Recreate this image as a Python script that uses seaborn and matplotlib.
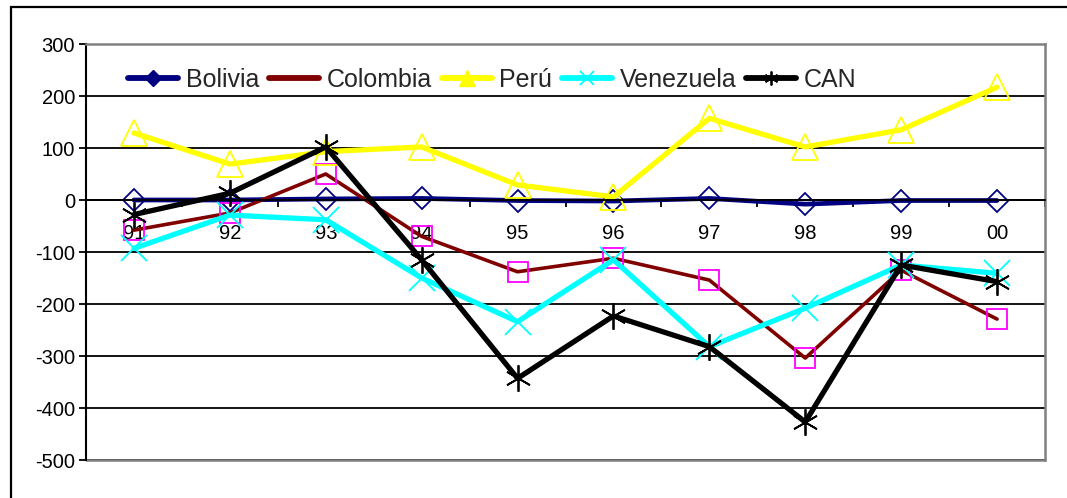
import matplotlib
matplotlib.use('Agg')
import matplotlib.pyplot as plt
import seaborn as sns
import numpy as np
import pandas as pd
from matplotlib.lines import Line2D
from matplotlib.patches import Rectangle

sns.set_theme(style='white')
plt.rcParams['font.family'] = ['Liberation Sans', 'DejaVu Sans']

# data
years = ['91', '92', '93', '94', '95', '96', '97', '98', '99', '00']
bolivia = [0, 0, 2, 3, -1, -2, 3, -8, -1, -1]
colombia = [-58, -25, 50, -70, -138, -112, -154, -304, -135, -229]
peru = [129, 69, 93, 102, 29, 6, 157, 102, 135, 217]
venezuela = [-93, -29, -38, -150, -234, -115, -282, -208, -125, -141]
can = [-28, 13, 102, -115, -343, -223, -282, -427, -125, -157]
yticks = [300, 200, 100, 0, -100, -200, -300, -400, -500]

df = pd.DataFrame({'pos': np.arange(len(years)), 'Bolivia': bolivia, 'Colombia': colombia,
                   'Perú': peru, 'Venezuela': venezuela, 'CAN': can})

asterisk = (6, 2, 0)
# name, line colour, marker, marker colour, marker size, line width
styles = [
    ('Bolivia', '#000080', 'D', '#000080', 11.5, 3.4),
    ('Colombia', '#800000', 's', '#FF00FF', 15, 2.6),
    ('Perú', '#FFFF00', '^', '#FFFF00', 19, 3.8),
    ('Venezuela', '#00FFFF', 'x', '#00FFFF', 19, 3.8),
    ('CAN', '#000000', asterisk, '#000000', 19, 3.8),
]

fig = plt.figure(figsize=(10.67, 4.98), dpi=100)
ax = fig.add_axes([86 / 1067, 1 - 460 / 498, 959 / 1067, 416 / 498])

for name, lc, mk, mc, ms, lw in styles:
    sns.lineplot(data=df, x='pos', y=name, ax=ax, color=lc, lw=lw, marker=mk,
                 mfc='none', mec=mc, ms=ms, mew=1.3, sort=False, legend=False)

ax.set_xlim(-0.5, len(years) - 0.5)
ax.set_ylim(-500, 300)
ax.set_xlabel('')
ax.set_ylabel('')

# y axis
ax.set_yticks(yticks)
ax.set_yticklabels([str(v) for v in yticks])
ax.tick_params(axis='y', which='major', left=True, length=5, width=1.3, color='black',
               pad=3, labelsize=14.5, labelcolor='black')
ax.yaxis.grid(True, color='black', lw=1.3)
ax.set_axisbelow(True)

# x axis sits on zero
ax.spines['bottom'].set_position(('data', 0))
ax.spines['bottom'].set_color('black')
ax.spines['bottom'].set_linewidth(1.3)
ax.spines['left'].set_color('black')
ax.spines['left'].set_linewidth(1.5)
for s in ['top', 'right']:
    ax.spines[s].set_color('#808080')
    ax.spines[s].set_linewidth(1.8)
ax.axhline(-500, color='#808080', lw=1.8, clip_on=False, zorder=2.5)

ax.set_xticks(np.arange(len(years)))
ax.set_xticklabels(years)
ax.set_xticks(np.arange(-0.5, len(years)), minor=True)
ax.tick_params(axis='x', which='major', length=0, pad=17, labelsize=14.5, labelcolor='black')
ax.tick_params(axis='x', which='minor', bottom=True, length=5, width=1.3, color='black',
               direction='out')

# legend
handles = [
    Line2D([], [], color='#000080', lw=4.2, marker='D', ms=8, mfc='#000080', mec='#000080'),
    Line2D([], [], color='#800000', lw=4.2),
    Line2D([], [], color='#FFFF00', lw=4.2, marker='^', ms=11, mfc='#FFFF00', mec='#FFFF00'),
    Line2D([], [], color='#00FFFF', lw=4.2, marker='x', ms=10, mec='#00FFFF', mew=1.3),
    Line2D([], [], color='#000000', lw=4.2, marker=asterisk, ms=10, mec='#000000', mew=1.3),
]
ax.legend(handles, [s[0] for s in styles], loc='center left',
          bbox_to_anchor=((128 - 86) / 959, (460 - 80) / 416), ncol=5, frameon=False,
          fontsize=18, handlelength=2.0, handletextpad=0.3, columnspacing=0.4,
          borderpad=0, borderaxespad=0)

# outer chart frame
fig.patches.append(Rectangle((11 / 1067, -0.1), 1.2, 1.1 - 7 / 498, transform=fig.transFigure,
                             fill=False, ec='black', lw=1.6))

fig.savefig('out.png', dpi=100)
